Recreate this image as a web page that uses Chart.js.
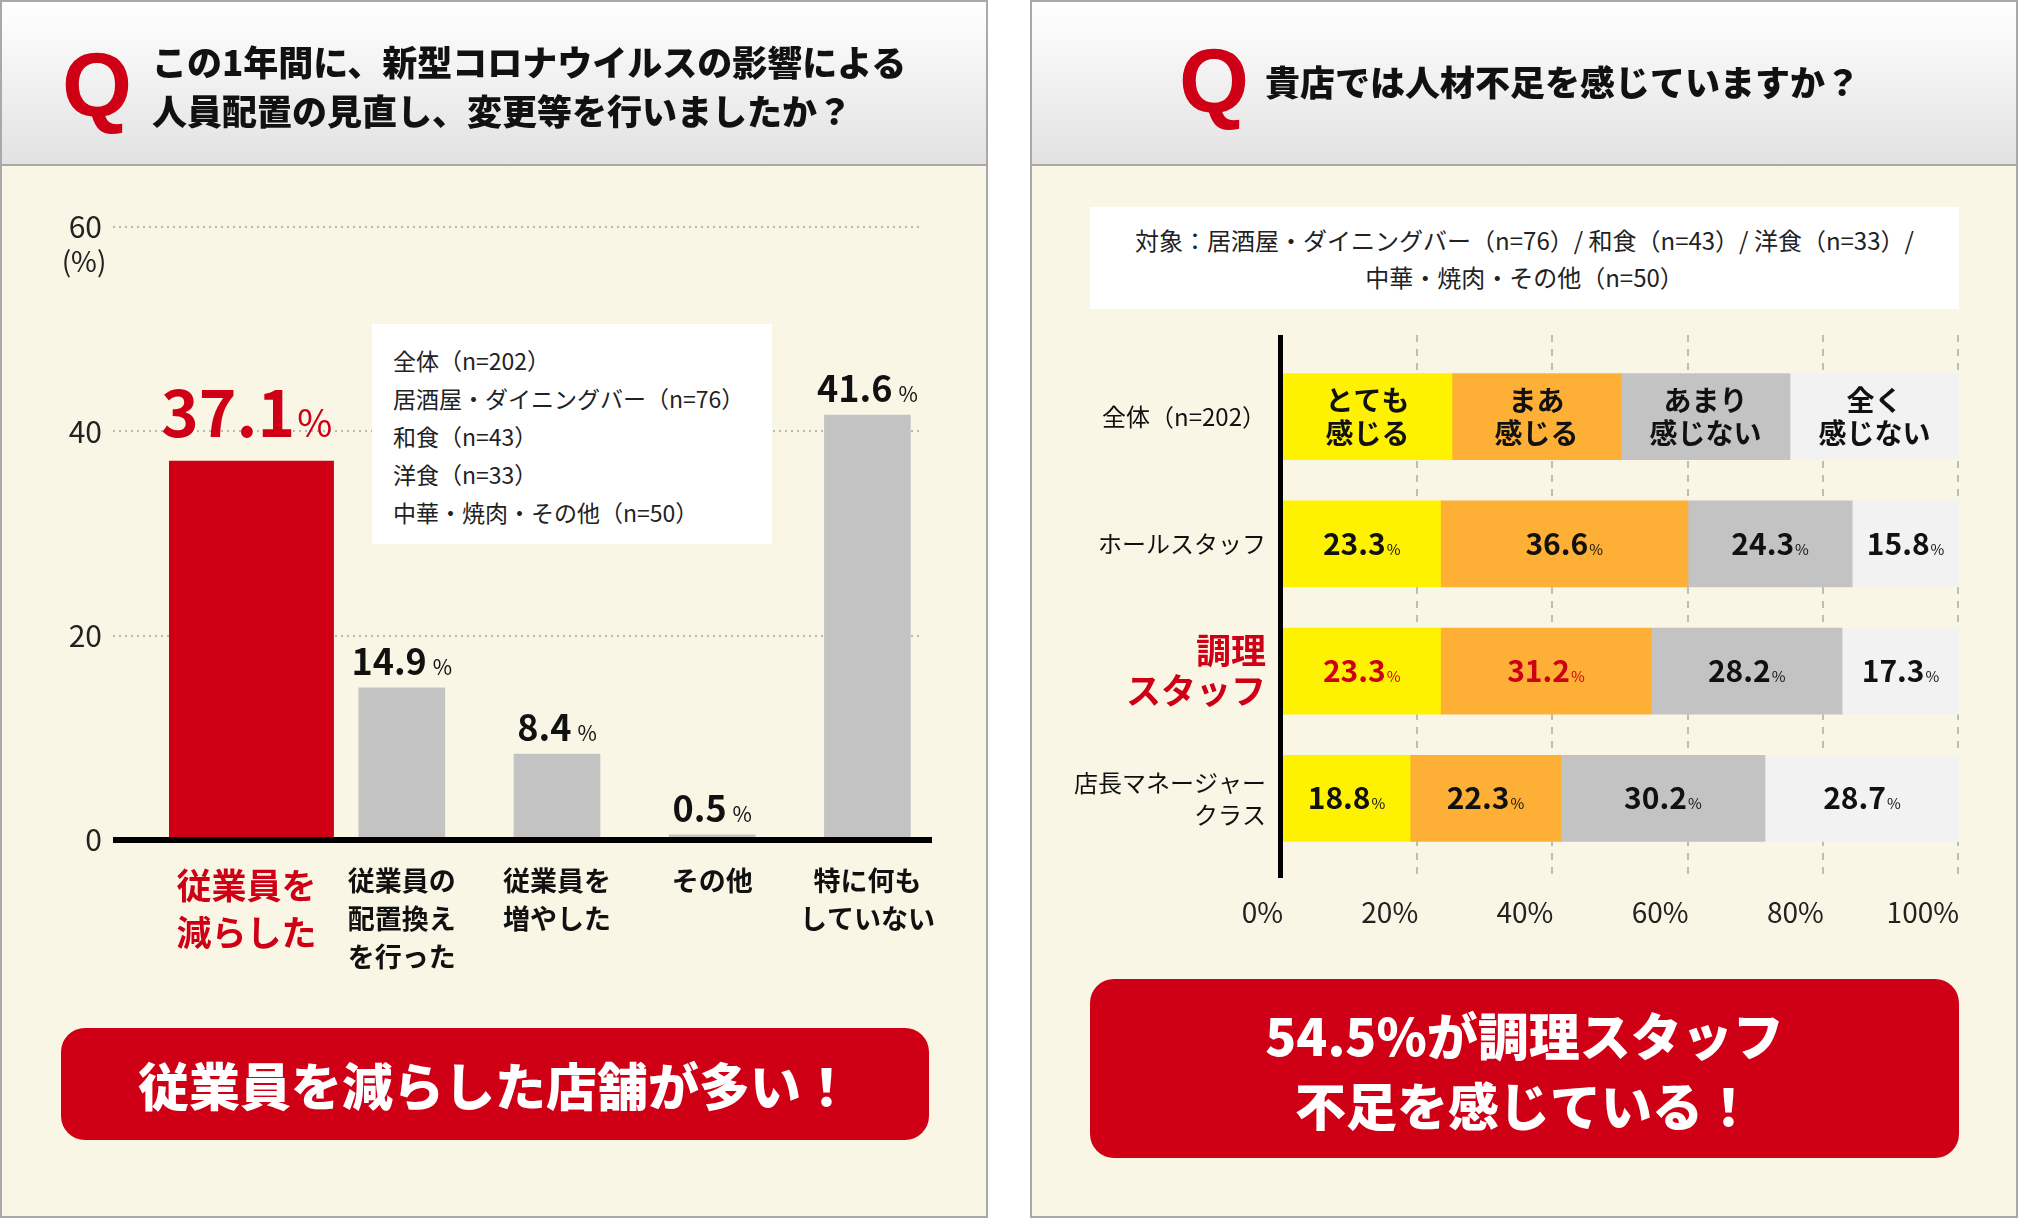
<!DOCTYPE html>
<html lang="ja">
<head>
<meta charset="utf-8">
<title>人員配置の見直し・人材不足</title>
<script src="https://cdn.jsdelivr.net/npm/chart.js@4.4.1/dist/chart.umd.min.js"></script>
<style>
  html, body { margin: 0; padding: 0; background: #fff; }
  body { width: 2020px; height: 1220px; position: relative; overflow: hidden;
         font-family: 'Noto Sans CJK JP', sans-serif; color: #111; }
  .panel { position: absolute; top: 0; width: 984px; height: 1214px; border: 2px solid #a9a9a9;
           background: #faf6e6; z-index: 0; }
  .head { height: 162px; border-bottom: 2px solid #a9a9a9; background: linear-gradient(#ffffff, #e2e2e2); }
  canvas { position: absolute; left: 0; top: 0; z-index: 1; pointer-events: none; }
  .ov { position: absolute; z-index: 2; }
  .q { font-family: 'Liberation Sans', Arial, sans-serif; font-weight: bold; font-size: 90px;
       line-height: 90px; color: #cf0016; }
  .title { font-weight: 900; font-size: 35px; line-height: 49px; white-space: nowrap; color: #111; }
  .note { background: #fff; white-space: nowrap; color: #222; }
  .redbox { background: #cf0016; color: #fff; border-radius: 24px; text-align: center;
            font-weight: 900; font-size: 51px; white-space: nowrap; }
</style>
</head>
<body>
<div class="panel" style="left:0"><div class="head"></div></div>
<div class="panel" style="left:1030px"><div class="head"></div></div>

<canvas id="crossChart" width="2020" height="1220"></canvas>
<canvas id="roleChart" width="2020" height="1220"></canvas>

<div class="ov q" style="left:62px; top:40px;">Q</div>
<div class="ov title" style="left:152px; top:36px;">この1年間に、新型コロナウイルスの影響による<br>人員配置の見直し、変更等を行いましたか？</div>

<div class="ov note" style="left:372px; top:324px; width:400px; height:220px; box-sizing:border-box; padding:17px 0 0 21px; font-size:23px; line-height:38px;">
全体（n=202）<br>居酒屋・ダイニングバー（n=76）<br>和食（n=43）<br>洋食（n=33）<br>中華・焼肉・その他（n=50）</div>

<div class="ov redbox" style="left:61px; top:1028px; width:868px; height:112px; line-height:112px;">従業員を減らした店舗が多い！</div>

<div class="ov q" style="left:1179px; top:36px;">Q</div>
<div class="ov title" style="left:1265px; top:56px;">貴店では人材不足を感じていますか？</div>

<div class="ov note" style="left:1090px; top:207px; width:869px; height:102px; box-sizing:border-box; padding-top:14px; text-align:center; font-size:24px; line-height:37px;">
対象：居酒屋・ダイニングバー（n=76）/ 和食（n=43）/ 洋食（n=33）/<br>中華・焼肉・その他（n=50）</div>

<div class="ov redbox" style="left:1090px; top:979px; width:869px; height:179px; box-sizing:border-box; padding-top:20px; line-height:70px;">54.5%が調理スタッフ<br>不足を感じている！</div>

<script>
// left chart: 人員配置の見直し
const crossCats = [['従業員を', '減らした'], ['従業員の', '配置換え', 'を行った'], ['従業員を', '増やした'], ['その他'], ['特に何も', 'していない']];
const crossVals = [37.1, 14.9, 8.4, 0.5, 41.6];
const crossTicks = [0, 20, 40, 60];

// right chart: 人材不足
const roleCats = ['全体（n=202）', 'ホールスタッフ', ['調理', 'スタッフ'], ['店長マネージャー', 'クラス']];
const answerNames = [['とても', '感じる'], ['まあ', '感じる'], ['あまり', '感じない'], ['全く', '感じない']];
const veryMuch = [25, 23.3, 23.3, 18.8];
const somewhat = [25, 36.6, 31.2, 22.3];
const notMuch  = [25, 24.3, 28.2, 30.2];
const notAtAll = [25, 15.8, 17.3, 28.7];
const pctTicks = [0, 20, 40, 60, 80, 100];

const FONT = "'Noto Sans CJK JP', sans-serif";
const RED = '#cf0016';
const GRAY = '#c3c3c3';

Chart.defaults.font.family = FONT;
Chart.defaults.animation = false;
Chart.defaults.plugins.legend.display = false;
Chart.defaults.plugins.tooltip.enabled = false;

function hline(ctx, x1, x2, y) {
    ctx.beginPath(); ctx.moveTo(x1, y); ctx.lineTo(x2, y); ctx.stroke();
}
function vline(ctx, x, y1, y2) {
    ctx.beginPath(); ctx.moveTo(x, y1); ctx.lineTo(x, y2); ctx.stroke();
}

const crossDecor = {
    id: 'crossDecor',
    beforeDatasetsDraw(chart) {
        const { ctx, scales: { y } } = chart;
        ctx.save();
        ctx.strokeStyle = '#b9b9b9';
        ctx.lineWidth = 2;
        ctx.setLineDash([2, 4]);
        crossTicks.filter(v => v > 0).forEach(v => hline(ctx, 113, 922, Math.round(y.getPixelForValue(v))));
        ctx.setLineDash([]);
        ctx.fillStyle = '#222';
        ctx.font = '28px ' + FONT;
        ctx.textAlign = 'center';
        ctx.textBaseline = 'middle';
        ctx.fillText('(%)', 84, y.getPixelForValue(60) + 34);
        ctx.restore();
    },
    afterDatasetsDraw(chart) {
        const { ctx, scales: { y } } = chart;
        ctx.save();
        ctx.strokeStyle = '#000';
        ctx.lineWidth = 6;
        hline(ctx, 113, 932, y.getPixelForValue(0));
        ctx.textAlign = 'left';
        ctx.textBaseline = 'alphabetic';
        chart.data.datasets.forEach((ds, di) => {
            chart.getDatasetMeta(di).data.forEach((el, i) => {
                const v = ds.data[i];
                if (v == null) return;
                const big = i === 0;
                const num = v.toFixed(1);
                const fNum = (big ? 'bold 64px ' : 'bold 36px ') + FONT;
                const fPct = (big ? '38px ' : '21px ') + FONT;
                ctx.font = fNum; const wn = ctx.measureText(num).width;
                ctx.font = fPct; const wp = ctx.measureText('%').width;
                const gap = big ? 2 : 6;
                const x0 = el.x - (wn + gap + wp) / 2;
                const base = el.y - (big ? 24 : 13);
                ctx.fillStyle = big ? RED : '#111';
                ctx.font = fNum; ctx.fillText(num, x0, base);
                ctx.font = fPct; ctx.fillText('%', x0 + wn + gap, base);
            });
        });
        ctx.restore();
    }
};

new Chart(document.getElementById('crossChart'), {
    type: 'bar',
    data: {
        labels: crossCats,
        datasets: [
            { data: crossVals.map((v, i) => i === 0 ? v : null), backgroundColor: RED, barThickness: 174, grouped: false },
            { data: crossVals.map((v, i) => i === 0 ? null : v), backgroundColor: GRAY, barThickness: 86, grouped: false }
        ]
    },
    options: {
        responsive: false,
        layout: { padding: { left: 0, right: 1075, top: 227, bottom: 230 } },
        scales: {
            x: {
                grid: { display: false, drawTicks: false },
                border: { display: false },
                ticks: {
                    padding: 22, autoSkip: false, maxRotation: 0,
                    color: c => c.index === 0 ? RED : '#111',
                    font: c => c.index === 0
                        ? { size: 35, weight: 'bold', lineHeight: '47px' }
                        : { size: 27, weight: 'bold', lineHeight: '38px' }
                },
                afterFit: s => { s.height = 150; }
            },
            y: {
                min: 0, max: 60,
                afterBuildTicks: s => { s.ticks = crossTicks.map(v => ({ value: v })); },
                grid: { display: false, drawTicks: false },
                border: { display: false },
                ticks: { padding: 67, color: '#222', font: { size: 30 } },
                afterFit: s => { s.width = 169; }
            }
        }
    },
    plugins: [crossDecor]
});

const roleDecor = {
    id: 'roleDecor',
    beforeDatasetsDraw(chart) {
        const { ctx, scales: { x } } = chart;
        ctx.save();
        ctx.strokeStyle = '#bdbdbd';
        ctx.lineWidth = 2;
        ctx.setLineDash([7, 7]);
        pctTicks.filter(v => v > 0).forEach(v => vline(ctx, Math.round(x.getPixelForValue(v)) - 1, 335, 878));
        ctx.restore();
    },
    afterDatasetsDraw(chart) {
        const { ctx, scales: { x } } = chart;
        ctx.save();
        ctx.strokeStyle = '#000';
        ctx.lineWidth = 5;
        vline(ctx, x.getPixelForValue(0) - 2.5, 335, 878);
        chart.data.datasets.forEach((ds, di) => {
            chart.getDatasetMeta(di).data.forEach((el, i) => {
                const p = el.getProps(['x', 'y', 'base']);
                const cx = (p.x + p.base) / 2;
                ctx.fillStyle = '#111';
                if (i === 0) {
                    ctx.font = 'bold 28px ' + FONT;
                    ctx.textAlign = 'center';
                    ctx.textBaseline = 'middle';
                    ctx.fillText(answerNames[di][0], cx, p.y - 16);
                    ctx.fillText(answerNames[di][1], cx, p.y + 17);
                    return;
                }
                const num = ds.data[i].toFixed(1);
                const fNum = 'bold 30px ' + FONT;
                const fPct = '15px ' + FONT;
                ctx.textAlign = 'left';
                ctx.textBaseline = 'alphabetic';
                ctx.font = fNum; const wn = ctx.measureText(num).width;
                ctx.font = fPct; const wp = ctx.measureText('%').width;
                const x0 = cx - (wn + 1 + wp) / 2;
                const base = p.y + 11;
                ctx.fillStyle = (i === 2 && di < 2) ? RED : '#111';
                ctx.font = fNum; ctx.fillText(num, x0, base);
                ctx.font = fPct; ctx.fillText('%', x0 + wn + 1, base);
            });
        });
        ctx.restore();
    }
};

const answerSeries = [veryMuch, somewhat, notMuch, notAtAll];
const answerColors = ['#fff200', '#fdb035', '#c3c3c3', '#f2f2f2'];

new Chart(document.getElementById('roleChart'), {
    type: 'bar',
    data: {
        labels: roleCats,
        datasets: answerSeries.map((d, k) => ({
            label: answerNames[k].join(''),
            data: d,
            backgroundColor: answerColors[k],
            barThickness: 86
        }))
    },
    options: {
        responsive: false,
        indexAxis: 'y',
        layout: { padding: { left: 1040, right: 61, top: 353, bottom: 278 } },
        scales: {
            x: {
                stacked: true, min: 0, max: 100,
                afterBuildTicks: s => { s.ticks = pctTicks.map(v => ({ value: v })); },
                grid: { display: false, drawTicks: false },
                border: { display: false },
                ticks: { align: 'end', padding: 34, color: '#222', font: { size: 28 }, callback: v => v + '%' },
                afterFit: s => { s.height = 80; }
            },
            y: {
                stacked: true,
                grid: { display: false, drawTicks: false },
                border: { display: false },
                ticks: {
                    padding: 17, autoSkip: false,
                    color: c => c.index === 2 ? RED : '#111',
                    font: c => c.index === 2
                        ? { size: 35, weight: 'bold', lineHeight: '40px' }
                        : { size: 24, lineHeight: '32px' }
                },
                afterFit: s => { s.width = 243; }
            }
        }
    },
    plugins: [roleDecor]
});
</script>
</body>
</html>
